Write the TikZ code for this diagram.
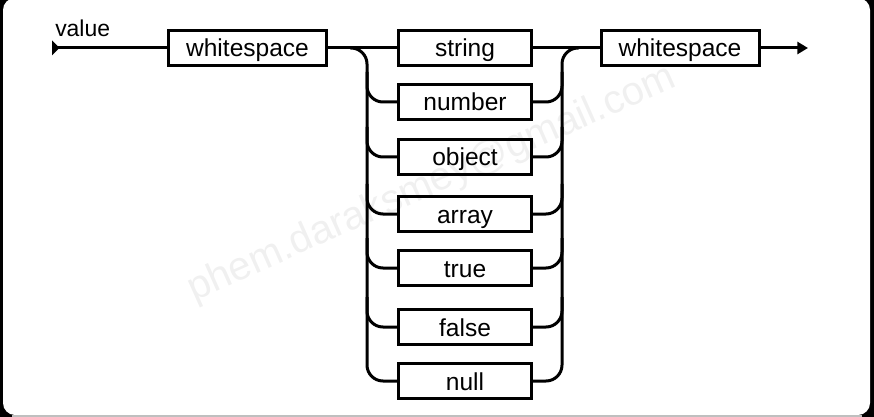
\documentclass[tikz,border=0pt]{standalone}
\usepackage{fontspec}
\setmainfont{Liberation Sans}
\usetikzlibrary{arrows.meta}
\tikzset{
  box/.style={draw=black, line width=2.25pt, inner sep=0pt,
    minimum width=99.75pt, minimum height=26.25pt,
    text height=17pt, text depth=3.5pt,
    font=\fontsize{18.4}{22}\selectfont},
  wsbox/.style={box, minimum width=118.5pt},
  rail/.style={line width=2.25pt, line cap=butt, rounded corners=12pt},
  conn/.style={line width=2.25pt}
}
\begin{document}
\begin{tikzpicture}[x=0.75pt,y=-0.75pt]
\useasboundingbox (0,0) rectangle (874,417);
% frame
\fill[black] (0,0) rectangle (874,417);
\fill[white, rounded corners=9pt] (3,-2) rectangle (870,415);
\fill[black!25] (12,415) rectangle (862,417);
% nodes
\node[wsbox] (ws1) at (247.5,48) {whitespace};
\node[box] (str) at (465,48) {string};
\node[box] (num) at (465,102) {number};
\node[box] (obj) at (465,157) {object};
\node[box] (arr) at (465,214) {array};
\node[box] (tru) at (465,268) {true};
\node[box] (fal) at (465,327) {false};
\node[box] (nul) at (465,381) {null};
\node[wsbox] (ws2) at (680,48) {whitespace};
\node[anchor=base west, inner sep=0pt, font=\fontsize{17.2}{20}\selectfont] (lbl) at (55,37) {value};
% rail coordinates
\coordinate (L) at (367,0);
\coordinate (R) at (562,0);
\coordinate (st) at (52,48);
\coordinate (en) at (808,48);
% start marker
\fill (52,40.5) -- (59.5,48) -- (52,55.5) -- cycle;
\draw[conn] (st) -- (ws1.west);
\draw[conn] (ws1.east) -- (str.west);
\draw[conn] (str.east) -- (ws2.west);
\draw[conn, -{Triangle[length=8pt,width=9pt]}] (ws2.east) -- (en);
% left rail
\draw[rail] (350,48) -- (L |- str.west) -- (L |- nul.west) -- (nul.west);
\foreach \n in {num,obj,arr,tru,fal}{
  \draw[rail] (L |- \n.west) ++(0,-30) -- (L |- \n.west) -- (\n.west);
}
% right rail
\draw[rail] (nul.east) -- (R |- nul.east) -- (R |- str.east) -- (579,48);
\foreach \n in {num,obj,arr,tru,fal}{
  \draw[rail] (\n.east) -- (R |- \n.east) -- ++(0,-30);
}
% watermark (faint, on top)
\node[text=black, text opacity=0.06, rotate=24, font=\fontsize{30}{34}\selectfont] (wm) at (432,184) {phem.daraksmey@gmail.com};
\end{tikzpicture}
\end{document}
